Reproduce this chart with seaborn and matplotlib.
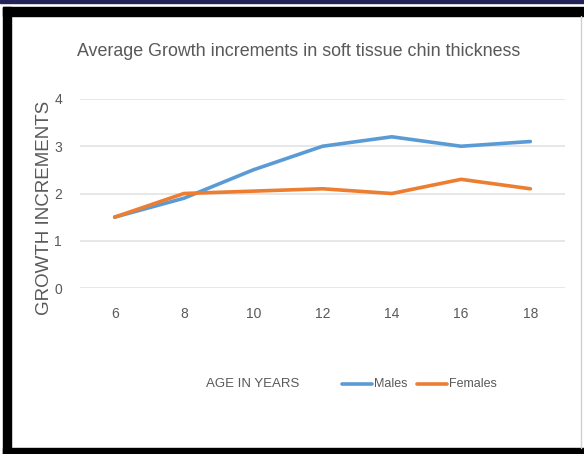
import matplotlib
matplotlib.use("Agg")
import matplotlib.pyplot as plt
import seaborn as sns
import pandas as pd
from matplotlib.patches import Rectangle
from matplotlib.lines import Line2D

ages = ["6", "8", "10", "12", "14", "16", "18"]
males = [1.5, 1.9, 2.5, 3.0, 3.2, 3.0, 3.1]
females = [1.5, 2.0, 2.05, 2.1, 2.0, 2.3, 2.1]
y_ticks = [0, 1, 2, 3, 4]

sns.set_theme(style="white")
plt.rcParams['font.family'] = ['Liberation Sans Narrow', 'Liberation Sans', 'DejaVu Sans']

df = pd.DataFrame({
    "age": ages * 2,
    "value": males + females,
    "sex": ["Males"] * len(ages) + ["Females"] * len(ages),
})
df["x"] = df["age"].map({a: i for i, a in enumerate(ages)})

W, H = 584, 454
fig = plt.figure(figsize=(W / 100, H / 100), dpi=100)
fig.patch.set_facecolor("white")

def fx(px):
    return px / W

def fy(py):
    return 1 - py / H

# frame decorations
fig.add_artist(Rectangle((0, fy(3)), 1, 3 / H, transform=fig.transFigure, color="#23235a", zorder=0))
fig.add_artist(Rectangle((fx(3), fy(16)), 1, 9 / H, transform=fig.transFigure, color="black", zorder=0))
fig.add_artist(Rectangle((fx(3), 0), 8 / W, fy(7), transform=fig.transFigure, color="black", zorder=0))
fig.add_artist(Rectangle((fx(3), 0), 1, 6 / H, transform=fig.transFigure, color="black", zorder=0))
fig.add_artist(Line2D([fx(581), fx(581)], [fy(16), fy(448)], transform=fig.transFigure, color="#d0d0d0", lw=1))

ax = fig.add_axes([fx(80), fy(288), (565 - 80) / W, (288 - 99) / H])
palette = {"Males": "#5b9bd5", "Females": "#ed7d31"}
sns.lineplot(data=df, x="x", y="value", hue="sex", palette=palette, linewidth=2.6,
             ax=ax, legend=False, sort=False)

ax.set_xlim(-0.5, len(ages) - 0.5)
ax.set_ylim(0, 4)
ax.set_yticks(y_ticks)
ax.set_yticklabels([str(t) for t in y_ticks])
ax.set_xticks(range(len(ages)))
ax.set_xticklabels(ages)
ax.grid(axis="y", color="#e3e3e3", lw=1.2)
ax.set_axisbelow(True)
for s in ax.spines.values():
    s.set_visible(False)
ax.tick_params(axis="both", length=0, labelsize=10, labelcolor="#595959")
ax.tick_params(axis="x", pad=14)
ax.tick_params(axis="y", pad=13)
ax.set_xlabel("")
ax.set_ylabel("")

fig.text(fx(299), fy(52), "Average Growth increments in soft tissue chin thickness",
         ha="center", va="center", fontsize=12.9, color="#595959")
fig.text(fx(45), fy(208), "GROWTH INCREMENTS", rotation=90, ha="center", va="center",
         fontsize=13.5, color="#595959")
fig.text(fx(253), fy(384), "AGE IN YEARS", ha="center", va="center", fontsize=9.5, color="#595959")

# legend
fig.add_artist(Line2D([fx(342), fx(372)], [fy(384), fy(384)], transform=fig.transFigure,
                      color=palette["Males"], lw=2.6))
fig.text(fx(374), fy(384), "Males", ha="left", va="center", fontsize=9, color="#595959")
fig.add_artist(Line2D([fx(417), fx(447)], [fy(384), fy(384)], transform=fig.transFigure,
                      color=palette["Females"], lw=2.6))
fig.text(fx(449), fy(384), "Females", ha="left", va="center", fontsize=9, color="#595959")

fig.savefig("out.png", dpi=100)
